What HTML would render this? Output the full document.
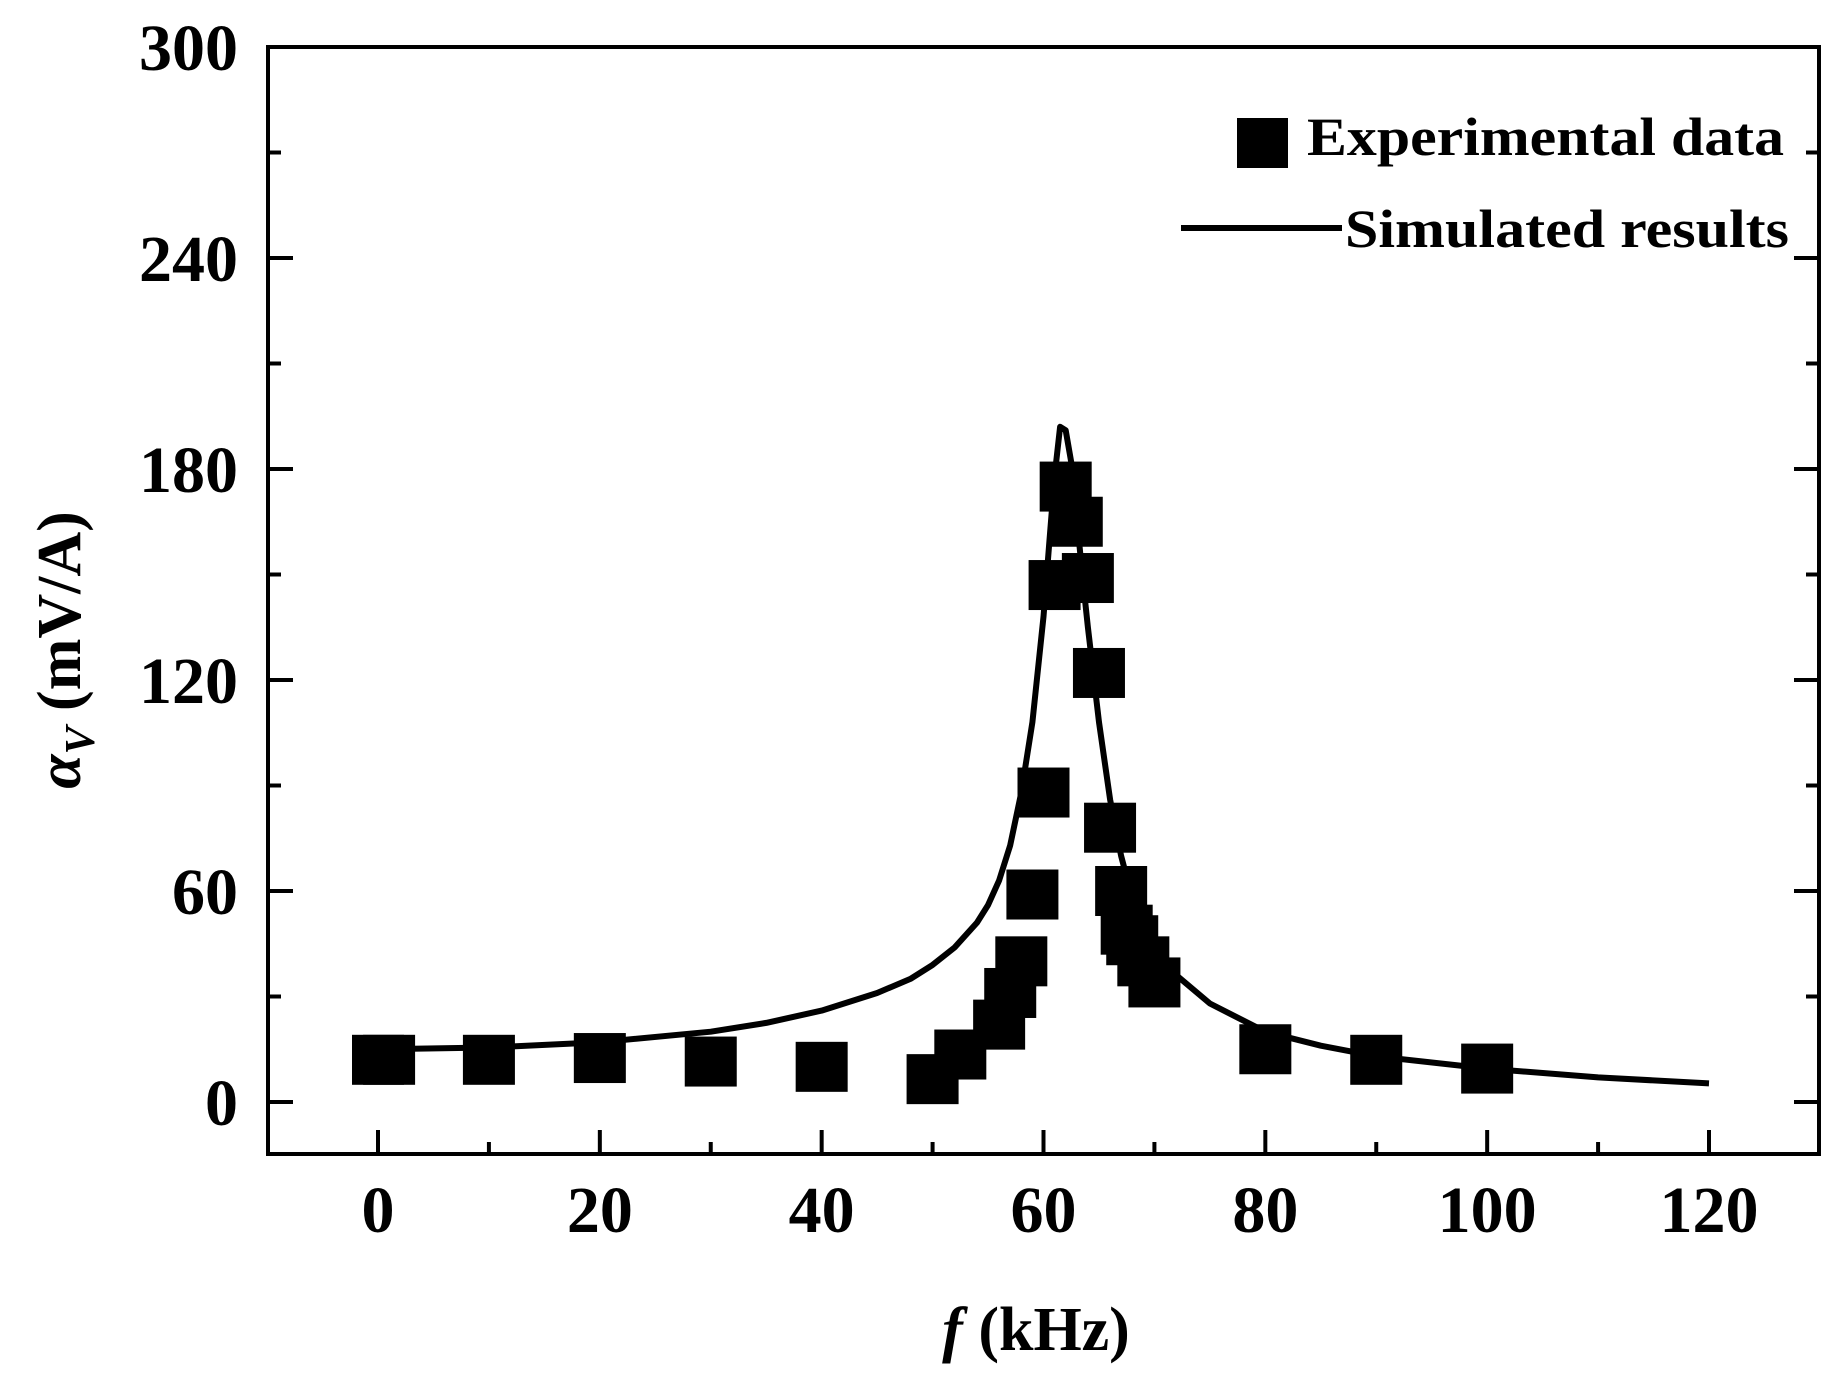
<!DOCTYPE html>
<html><head><meta charset="utf-8"><style>
html,body{margin:0;padding:0;background:#fff;}
svg{display:block;font-family:"Liberation Serif",serif;font-weight:bold;}
</style></head><body>
<svg id="chart" width="1836" height="1384" viewBox="0 0 1836 1384" xmlns="http://www.w3.org/2000/svg">
<g id="axes"></g>
<g id="curve"></g>
<g id="points"></g>
<g id="legend">
  <rect x="1237" y="118" width="51" height="50" fill="#000"/>
  <text x="1307" y="155" font-size="54" textLength="477" lengthAdjust="spacingAndGlyphs">Experimental data</text>
  <line x1="1181" y1="228" x2="1342" y2="228" stroke="#000" stroke-width="6"/>
  <text x="1345" y="247" font-size="54" textLength="444" lengthAdjust="spacingAndGlyphs">Simulated results</text>
</g>
<text transform="translate(80,650) rotate(-90)" text-anchor="middle" font-size="62"><tspan font-style="italic">α</tspan><tspan font-style="italic" font-size="42" dy="14">V</tspan><tspan dy="-14"> (mV/A)</tspan></text>
<text x="1036" y="1350" text-anchor="middle" font-size="62"><tspan font-style="italic">f</tspan> (kHz)</text>
</svg>
<script>
const xTicks = [0, 20, 40, 60, 80, 100, 120];
const yTicks = [0, 60, 120, 180, 240, 300];
const expF = [0, 1, 10, 20, 30, 40, 50, 52.5, 56, 57, 58, 59, 60, 61, 62, 63, 64, 65, 66, 67, 67.5, 68, 69, 70, 80, 90, 100];
const expV = [12, 12, 12, 12.5, 11.5, 10, 6.5, 13.5, 22, 31, 40, 59, 88, 147, 175, 165, 149, 122, 78, 60, 49, 46, 40, 34, 15, 12, 9.5];
const simF = [0, 10, 20, 30, 35, 40, 45, 48, 50, 52, 54, 55, 56, 57, 58, 59, 60, 60.5, 61, 61.5, 62, 62.5, 63, 63.5, 64, 65, 66, 67, 68, 69, 70, 72, 75, 80, 85, 90, 100, 110, 120];
const simV = [15, 15.5, 17, 20, 22.5, 26, 31, 35, 39, 44, 51, 56, 63, 73, 88, 108, 138, 158, 178, 192, 191, 182, 166, 150, 135, 108, 86, 70, 58, 50, 44, 36, 28, 20, 16, 13, 9.5, 7, 5.3];

const NS = 'http://www.w3.org/2000/svg';
const X0 = 378, X1 = 1709, Y0 = 1102, Y1 = 47;
const L = 268, R = 1819, T = 47, B = 1154;
function xs(v){ return X0 + (v - 0) / 120 * (X1 - X0); }
function ys(v){ return Y0 - v / 300 * (Y0 - Y1); }
function mk(tag, attrs, parent){ const e = document.createElementNS(NS, tag); for (const k in attrs) e.setAttribute(k, attrs[k]); parent.appendChild(e); return e; }

const axes = document.getElementById('axes');
const frame = mk('rect', {x:L, y:T, width:R-L, height:B-T, fill:'none', stroke:'#000', 'stroke-width':4}, axes);



for (let v = 0; v <= 120; v += 10) {
  const major = v % 20 === 0;
  const t = mk('line', {x1:xs(v), x2:xs(v), y1:B, y2:B-(major?24:12), stroke:'#000', 'stroke-width':4}, axes);
  
  
}
xTicks.forEach(v => {
  const t = mk('text', {x:xs(v), y:1232, 'text-anchor':'middle', 'font-size':66}, axes);
  t.textContent = v;
  
  
});
for (let v = 0; v <= 300; v += 30) {
  const major = v % 60 === 0;
  const len = major ? 25 : 13;
  const t = mk('line', {x1:L, x2:L+len, y1:ys(v), y2:ys(v), stroke:'#000', 'stroke-width':4}, axes);
  
  
  const t2 = mk('line', {x1:R, x2:R-len, y1:ys(v), y2:ys(v), stroke:'#000', 'stroke-width':4}, axes);
  
  
}
yTicks.forEach(v => {
  const t = mk('text', {x:238, y:ys(v)+23, 'text-anchor':'end', 'font-size':66}, axes);
  t.textContent = v;
  
  
});

const curve = document.getElementById('curve');
const d = simF.map((f, i) => (i ? 'L' : 'M') + xs(f).toFixed(1) + ',' + ys(simV[i]).toFixed(1)).join(' ');
const path = mk('path', {d:d, fill:'none', stroke:'#000', 'stroke-width':6, 'stroke-linejoin':'round'}, curve);



const pts = document.getElementById('points');
expF.forEach((f, i) => {
  const r = mk('rect', {x:xs(f)-26, y:ys(expV[i])-25, width:52, height:50, fill:'#000'}, pts);
  
  
});
</script>
</body></html>
